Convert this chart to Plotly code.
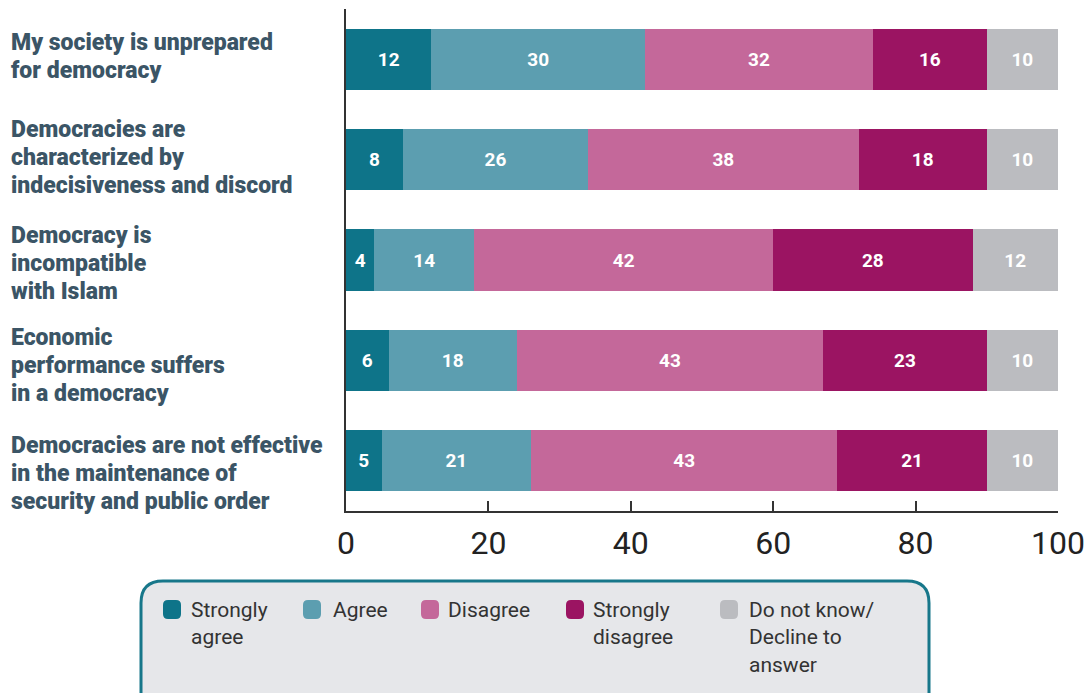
import plotly.graph_objects as go

# Survey statements (top to bottom) and response shares in percent
statements = [
    ["My society is unprepared", "for democracy"],
    ["Democracies are", "characterized by", "indecisiveness and discord"],
    ["Democracy is", "incompatible", "with Islam"],
    ["Economic", "performance suffers", "in a democracy"],
    ["Democracies are not effective", "in the maintenance of", "security and public order"],
]
categories = ["s1", "s2", "s3", "s4", "s5"]

strongly_agree = [12, 8, 4, 6, 5]
agree = [30, 26, 14, 18, 21]
disagree = [32, 38, 42, 43, 43]
strongly_disagree = [16, 18, 28, 23, 21]
dont_know = [10, 10, 12, 10, 10]

series_names = ["Strongly<br>agree", "Agree", "Disagree", "Strongly<br>disagree",
                "Do not know/<br>Decline to<br>answer"]
series_values = [strongly_agree, agree, disagree, strongly_disagree, dont_know]
series_colors = ["#0e7489", "#5c9eb0", "#c4689a", "#9b1462", "#bbbcc0"]

x_ticks = [0, 20, 40, 60, 80, 100]

W, H = 1089, 693
L, R, T, B = 346, 31, 9, 182
PW, PH = W - L - R, H - T - B


def px(x):
    return (x - L) / PW


def py(y):
    return (H - B - y) / PH


def rounded_rect(x0, y0, x1, y1, r):
    # rounded rectangle in pixel coords converted to paper coords
    rx, ry = r / PW, r / PH
    a, b, c, d = px(x0), px(x1), py(y0), py(y1)  # c top, d bottom
    return (f"M {a+rx},{c} L {b-rx},{c} Q {b},{c} {b},{c-ry} "
            f"L {b},{d+ry} Q {b},{d} {b-rx},{d} L {a+rx},{d} "
            f"Q {a},{d} {a},{d+ry} L {a},{c-ry} Q {a},{c} {a+rx},{c} Z")


fig = go.Figure()
for name, vals, col in zip(series_names, series_values, series_colors):
    fig.add_trace(go.Bar(
        y=categories, x=vals, orientation="h", name=name,
        marker=dict(color=col, line=dict(width=0)),
        text=vals, texttemplate="%{text}", textposition="inside",
        insidetextanchor="middle", textangle=0, constraintext="none",
        textfont=dict(family="Roboto", size=19, color="white", weight="bold"),
        showlegend=False,
    ))

shapes = []
annotations = []

# statement labels on the left, one annotation per line
label_shift = [3, 2, -3, -5, -13]
line_gap = 28
for cat, lines, dy in zip(categories, statements, label_shift):
    n = len(lines)
    for i, line in enumerate(lines):
        off = dy + ((n - 1) / 2 - i) * line_gap
        annotations.append(dict(
            xref="paper", yref="y", x=px(9), y=cat, xanchor="left", yanchor="middle",
            yshift=off, text=line, showarrow=False, align="left",
            font=dict(family="Roboto", size=23, color="#3b5566", weight=900),
        ))

# legend box
shapes.append(dict(type="path", xref="paper", yref="paper",
                   path=rounded_rect(141, 581, 929, 740, 22),
                   fillcolor="#e6e7ea", line=dict(color="#17778a", width=3),
                   layer="below"))

marker_x = [163, 303, 421, 566, 720]
text_x = [189, 331, 446, 591, 747]
for mx, tx, name, col in zip(marker_x, text_x, series_names, series_colors):
    shapes.append(dict(type="path", xref="paper", yref="paper",
                       path=rounded_rect(mx, 600, mx + 18, 619, 5),
                       fillcolor=col, line=dict(width=0)))
    annotations.append(dict(
        xref="paper", yref="paper", x=px(tx), y=py(596), xanchor="left", yanchor="top",
        text=name, showarrow=False, align="left",
        font=dict(family="Roboto", size=21, color="#333333"),
    ))

fig.update_layout(
    barmode="stack",
    bargap=0.39,
    width=W, height=H,
    margin=dict(l=L, r=R, t=T, b=B, autoexpand=False),
    paper_bgcolor="white", plot_bgcolor="white",
    shapes=shapes, annotations=annotations,
    xaxis=dict(range=[0, 100], tickvals=x_ticks, ticks="inside", ticklen=10,
               tickcolor="#333333", tickwidth=1.5, showline=True, linecolor="#333333",
               linewidth=2, showgrid=False, zeroline=False, automargin=False,
               tickfont=dict(family="Roboto", size=32, color="#222222"),
               ticklabelstandoff=3),
    yaxis=dict(categoryorder="array", categoryarray=categories, autorange="reversed",
               showticklabels=False, ticks="", showline=True, linecolor="#333333",
               linewidth=2, showgrid=False, zeroline=False, automargin=False),
)

fig.write_html("out.html")
